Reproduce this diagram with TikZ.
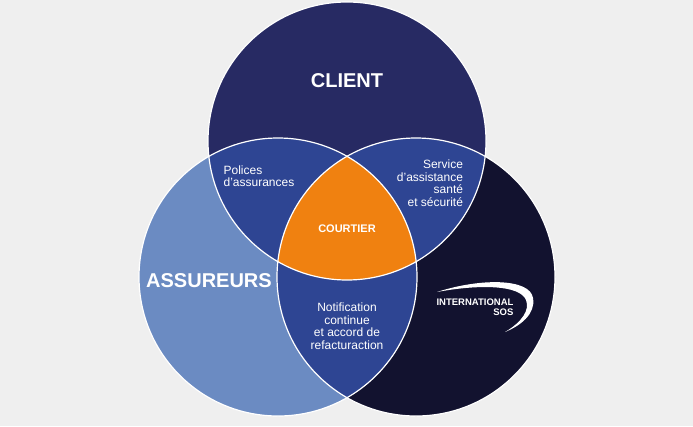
\documentclass[tikz,border=0pt]{standalone}
\usepackage{fontspec}
\setmainfont{Liberation Sans}
\definecolor{bg}{HTML}{EFEFEF}
\definecolor{ctop}{HTML}{272A63}
\definecolor{cleft}{HTML}{6B8BC2}
\definecolor{cright}{HTML}{12122F}
\definecolor{cmid}{HTML}{2E4593}
\definecolor{corange}{HTML}{F08110}
\begin{document}
\begin{tikzpicture}[x=1pt,y=-1pt,
  lab/.style={text=white,font=\fontsize{12}{12.5}\selectfont,align=center},
  big/.style={text=white,font=\bfseries\fontsize{20}{22}\selectfont},
  edge/.style={draw=white,line width=1.2pt}]
\fill[bg] (0,0) rectangle (693,426);
\useasboundingbox (0,0) rectangle (693,426);
\def\T{(347,141) circle (139)}
\def\L{(278,277) circle (139)}
\def\R{(416,277) circle (139)}
\fill[cleft] \L;
\fill[cright] \R;
\fill[ctop] \T;
\begin{scope}\clip \T; \fill[cmid] \L; \fill[cmid] \R; \end{scope}
\begin{scope}\clip \L; \fill[cmid] \R; \end{scope}
\begin{scope}\clip \T; \clip \L; \fill[corange] \R; \end{scope}
\draw[edge] \T; \draw[edge] \L; \draw[edge] \R;
\node[big] (client) at (347,81) {CLIENT};
\node[big] (ass) at (209,281) {ASSUREURS};
\node[text=white,font=\bfseries\fontsize{11}{12}\selectfont] (court) at (347,229) {COURTIER};
\node[lab,align=left] (pol) at (259,176) {Polices\\d’assurances};
\node[lab,align=right] (serv) at (430,183) {Service\\d’assistance\\santé\\et sécurité};
\node[lab] (notif) at (347,326) {Notification\\continue\\et accord de\\refacturaction};
\node[text=white,font=\bfseries\fontsize{9.5}{10}\selectfont,align=right,inner sep=0] (sos) at (475,307) {INTERNATIONAL\\SOS};
\fill[white] (437,292) .. controls (480,278) and (530,278) .. (533,298)
  .. controls (536,314) and (520,326) .. (505,332)
  .. controls (522,322) and (530,310) .. (526,300)
  .. controls (520,285) and (480,284) .. (437,292) -- cycle;
\end{tikzpicture}
\end{document}
